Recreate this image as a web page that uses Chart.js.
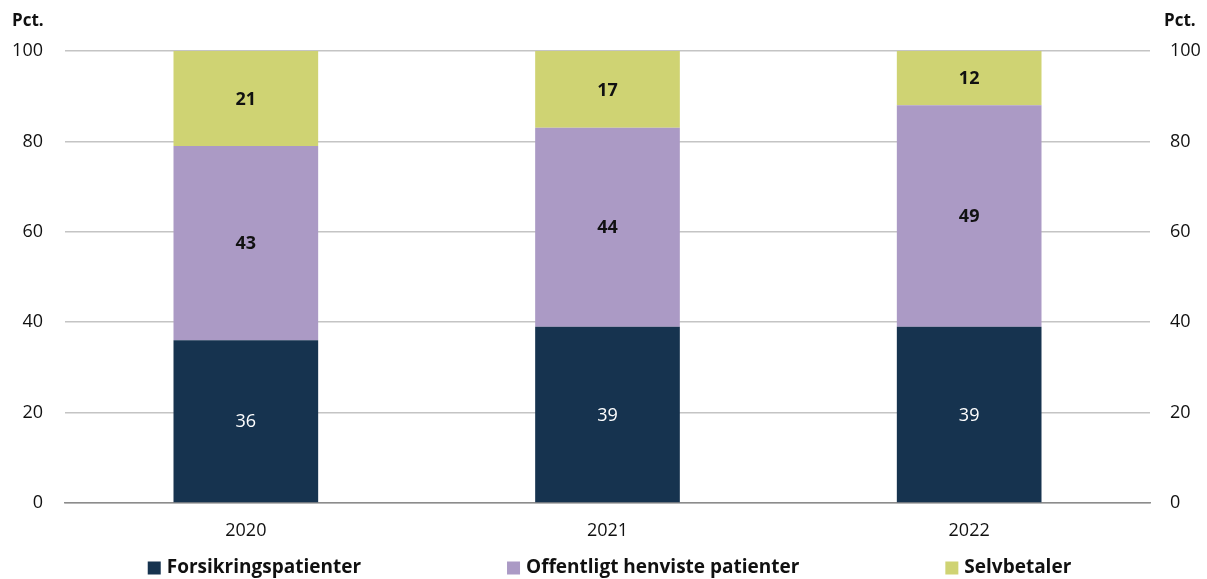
<!DOCTYPE html>
<html>
<head>
<meta charset="utf-8">
<script src="https://cdn.jsdelivr.net/npm/chart.js@4"></script>
<style>
  html, body { margin: 0; padding: 0; background: #fff; }
  #wrap { width: 1207px; height: 579px; position: relative; }
</style>
</head>
<body>
<div id="wrap"><canvas id="chart" width="1207" height="579"></canvas></div>
<script>
// data
const years = ['2020', '2021', '2022'];
const forsikring = [36, 39, 39];
const offentligt = [43, 44, 49];
const selvbetaler = [21, 17, 12];
const yTicks = [0, 20, 40, 60, 80, 100];

const FONT = "'Open Sans', 'Noto Sans', sans-serif";

// value labels in the middle of each segment
const segmentLabels = {
  id: 'segmentLabels',
  afterDatasetsDraw(chart) {
    const ctx = chart.ctx;
    chart.data.datasets.forEach((ds, i) => {
      const meta = chart.getDatasetMeta(i);
      meta.data.forEach((bar, j) => {
        const mid = (bar.y + bar.base) / 2;
        ctx.save();
        ctx.font = (i === 0 ? '500 ' : 'bold ') + '18px ' + FONT;
        ctx.fillStyle = i === 0 ? '#ffffff' : '#111111';
        ctx.textAlign = 'center';
        ctx.textBaseline = 'middle';
        ctx.fillText(ds.data[j], bar.x, mid + 1);
        ctx.restore();
      });
    });
  }
};

// "Pct." unit text and bottom legend
const extras = {
  id: 'extras',
  afterDraw(chart) {
    const ctx = chart.ctx;
    ctx.save();
    ctx.font = 'bold 17px ' + FONT;
    ctx.fillStyle = '#111';
    ctx.textBaseline = 'middle';
    ctx.textAlign = 'left';
    ctx.fillText('Pct.', 12, 21);
    ctx.fillText('Pct.', 1164, 21);

    // legend
    ctx.font = 'bold 19px ' + FONT;
    const box = 13, gapText = 6, gapItem = 146;
    const items = chart.data.datasets.map(ds => ({
      label: ds.label, color: ds.backgroundColor,
      w: box + gapText + ctx.measureText(ds.label).width
    }));
    const total = items.reduce((s, it) => s + it.w, 0) + gapItem * (items.length - 1);
    let x = (chart.width - total) / 2 + 6;
    const y = 568;
    items.forEach(it => {
      ctx.fillStyle = it.color;
      ctx.fillRect(x, y - box / 2, box, box);
      ctx.fillStyle = '#111';
      ctx.fillText(it.label, x + box + gapText, y);
      x += it.w + gapItem;
    });
    ctx.restore();
  }
};

const tickFont = { family: FONT, size: 18 };

new Chart(document.getElementById('chart'), {
  type: 'bar',
  data: {
    labels: years,
    datasets: [
      { label: 'Forsikringspatienter', data: forsikring, backgroundColor: '#16334f' },
      { label: 'Offentligt henviste patienter', data: offentligt, backgroundColor: '#ab9ac5' },
      { label: 'Selvbetaler', data: selvbetaler, backgroundColor: '#cfd373' }
    ]
  },
  options: {
    responsive: false,
    animation: false,
    layout: { padding: { top: 51, left: 0, right: 0, bottom: 0 } },
    datasets: { bar: { barPercentage: 0.4, categoryPercentage: 1, borderWidth: 0 } },
    plugins: { legend: { display: false }, tooltip: { enabled: false } },
    scales: {
      x: {
        stacked: true,
        grid: { display: false, drawTicks: false },
        border: { display: true, color: '#8c8c8c', width: 1.5 },
        ticks: { font: tickFont, color: '#111', padding: 17 },
        afterFit: s => { s.height = 76; }
      },
      y: {
        stacked: true,
        min: 0, max: 100,
        afterBuildTicks: s => { s.ticks = yTicks.map(v => ({ value: v })); },
        grid: { color: '#c4c4c4', lineWidth: 1.5, drawTicks: false },
        border: { display: false },
        ticks: { font: tickFont, color: '#111', padding: 22 },
        afterFit: s => { s.width = 65; }
      },
      y2: {
        position: 'right',
        min: 0, max: 100,
        afterBuildTicks: s => { s.ticks = yTicks.map(v => ({ value: v })); },
        grid: { display: false, drawTicks: false },
        border: { display: false },
        ticks: { font: tickFont, color: '#111', padding: 20 },
        afterFit: s => { s.width = 57; }
      }
    }
  },
  plugins: [segmentLabels, extras]
});
</script>
</body>
</html>
